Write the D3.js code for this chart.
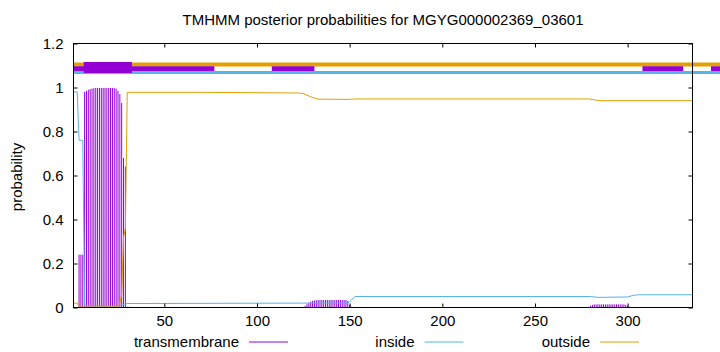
<!DOCTYPE html>
<html>
<head>
<meta charset="utf-8">
<script src="https://cdn.jsdelivr.net/npm/d3@7"></script>
<style>
  body { margin: 0; background: #fff; }
  text { font-family: "Liberation Sans", Arial, sans-serif; }
</style>
</head>
<body>
<div id="chart"></div>
<script>
// chart text
var title = "TMHMM posterior probabilities for MGYG000002369_03601";
var yLabel = "probability";
var seriesNames = ["transmembrane", "inside", "outside"];
var seriesColors = ["#9400d3", "#56b4e9", "#e69f00"];

// sequence length and ticks
var seqLength = 335;
var xTicks = [50, 100, 150, 200, 250, 300];
var yTicks = [0, 0.2, 0.4, 0.6, 0.8, 1, 1.2];

// transmembrane posterior, one value per residue (first residue given)
var tmStartA = 1;
var tmA = [0, 0, 0, 0.24, 0.24, 0.24, 0.98, 0.985, 0.99, 0.993, 0.995, 0.997, 0.998,
  0.998, 0.998, 0.998, 0.998, 0.998, 0.998, 0.998, 0.998, 0.998, 0.997, 0.995,
  0.985, 0.97, 0.93, 0.68, 0.64, 0.004, 0.003, 0.003];
var tmStartB = 124;
var tmB = [0.001, 0.003, 0.008, 0.015, 0.022, 0.027, 0.03, 0.032, 0.033, 0.034,
  0.034, 0.034, 0.034, 0.034, 0.034, 0.034, 0.034, 0.034, 0.034, 0.034, 0.034,
  0.034, 0.034, 0.034, 0.034, 0.03, 0.012, 0.003, 0.002];
var tmStartC = 279;
var tmC = [0.003, 0.008, 0.012, 0.014, 0.014, 0.014, 0.014, 0.014, 0.014, 0.014,
  0.014, 0.014, 0.014, 0.014, 0.014, 0.014, 0.014, 0.014, 0.014, 0.014, 0.012,
  0.008, 0.003];

// inside / outside posterior, [residue, probability] where the curve bends
var insidePts = [[1, 0.98], [3, 0.98], [4, 0.76], [6, 0.76], [7, 0.008], [24, 0.005],
  [27, 0.01], [29, 0.017], [30, 0.018], [125, 0.02], [149, 0.02], [151, 0.035],
  [153, 0.05], [280, 0.05], [284, 0.046], [300, 0.048], [303, 0.055], [306, 0.058],
  [335, 0.058]];
var outsidePts = [[1, 0.02], [3, 0.02], [4, 0.002], [25, 0.003], [26, 0.02], [27, 0.06],
  [28, 0.32], [29, 0.36], [30, 0.978], [70, 0.978], [123, 0.975], [125, 0.972],
  [127, 0.965], [129, 0.958], [131, 0.952], [133, 0.947], [149, 0.946], [153, 0.948],
  [279, 0.948], [282, 0.944], [285, 0.94], [335, 0.94]];

// predicted topology bands at the top [from, to]
var outsideBand = [[1, 352]];
var insideBand = [[1, 352]];
var tmThinBand = [[1, 77], [108, 131], [308, 330], [345, 352]];
var tmHelix = [[6.5, 32.5]];

var width = 720, height = 352;
var margin = {left: 73, right: 28, top: 43, bottom: 45};
var fontSize = 15;

var svg = d3.select("#chart").append("svg")
    .attr("width", width)
    .attr("height", height);

// scales
var xScale = d3.scaleLinear()
    .domain([1, seqLength])
    .range([margin.left + 0.5, width - margin.right + 0.5]);

var yScale = d3.scaleLinear()
    .domain([0, 1.2])
    .range([height - margin.bottom + 0.5, margin.top + 0.5]);

// bands (drawn first, not clipped)
function band(segs, yv, color, w) {
  svg.append("g").selectAll("line")
    .data(segs).enter().append("line")
      .attr("x1", function(d) { return xScale(d[0]); })
      .attr("x2", function(d) { return xScale(d[1]); })
      .attr("y1", yScale(yv))
      .attr("y2", yScale(yv))
      .attr("stroke", color)
      .attr("stroke-width", w);
}
band(outsideBand, 1.1045, seriesColors[2], 4);
band(tmThinBand, 1.085, seriesColors[0], 5);
band(insideBand, 1.068, seriesColors[1], 3);

svg.append("g").selectAll("rect")
  .data(tmHelix).enter().append("rect")
    .attr("x", function(d) { return xScale(d[0]); })
    .attr("width", function(d) { return xScale(d[1]) - xScale(d[0]); })
    .attr("y", 62)
    .attr("height", 11)
    .attr("fill", seriesColors[0]);

// impulses for the transmembrane posterior
var impulses = [];
[[tmStartA, tmA], [tmStartB, tmB], [tmStartC, tmC]].forEach(function(r) {
  r[1].forEach(function(v, i) {
    if (v > 0) impulses.push({pos: r[0] + i, val: v});
  });
});

svg.append("g").selectAll("line")
  .data(impulses).enter().append("line")
    .attr("x1", function(d) { return xScale(d.pos); })
    .attr("x2", function(d) { return xScale(d.pos); })
    .attr("y1", yScale(0))
    .attr("y2", function(d) { return yScale(d.val); })
    .attr("stroke", seriesColors[0])
    .attr("stroke-width", 1);

// inside / outside lines
var line = d3.line()
    .x(function(d) { return xScale(d[0]); })
    .y(function(d) { return yScale(d[1]); });

svg.append("path")
    .datum(insidePts)
    .attr("fill", "none")
    .attr("stroke", seriesColors[1])
    .attr("stroke-width", 1)
    .attr("d", line);

svg.append("path")
    .datum(outsidePts)
    .attr("fill", "none")
    .attr("stroke", seriesColors[2])
    .attr("stroke-width", 1)
    .attr("d", line);

// axes with inward ticks
var xAxis = d3.axisBottom(xScale).tickValues(xTicks).tickSizeInner(-4).tickSizeOuter(0).tickPadding(8);
var gx = svg.append("g")
    .attr("transform", "translate(0," + yScale(0) + ")")
    .call(xAxis);

var yAxis = d3.axisLeft(yScale).tickValues(yTicks).tickSizeInner(-4).tickSizeOuter(0).tickPadding(10)
    .tickFormat(function(d) { return String(d); });
var gy = svg.append("g")
    .attr("transform", "translate(" + xScale(1) + ",0)")
    .call(yAxis);

// mirrored ticks on top and right
var gxt = svg.append("g")
    .attr("transform", "translate(0," + yScale(1.2) + ")")
    .call(d3.axisTop(xScale).tickValues(xTicks).tickSizeInner(-4).tickSizeOuter(0).tickFormat(""));
var gyr = svg.append("g")
    .attr("transform", "translate(" + xScale(seqLength) + ",0)")
    .call(d3.axisRight(yScale).tickValues(yTicks).tickSizeInner(-4).tickSizeOuter(0).tickFormat(""));

[gx, gy, gxt, gyr].forEach(function(g) {
  g.select(".domain").remove();
  g.selectAll("line").attr("stroke", "#000");
  g.selectAll("text")
    .attr("font-family", "'Liberation Sans', Arial, sans-serif")
    .attr("font-size", fontSize)
    .attr("fill", "#000");
});

// frame
svg.append("rect")
    .attr("x", xScale(1))
    .attr("y", yScale(1.2))
    .attr("width", xScale(seqLength) - xScale(1))
    .attr("height", yScale(0) - yScale(1.2))
    .attr("fill", "none")
    .attr("stroke", "#000")
    .attr("stroke-width", 1);

// title
svg.append("text")
    .attr("x", (xScale(1) + xScale(seqLength)) / 2)
    .attr("y", 25)
    .attr("text-anchor", "middle")
    .attr("font-size", fontSize)
    .text(title);

// y label
svg.append("text")
    .attr("text-anchor", "middle")
    .attr("font-size", fontSize)
    .attr("transform", "translate(" + [22, 177] + ") rotate(-90)")
    .text(yLabel);

// legend
seriesNames.forEach(function(name, i) {
  var tx = 239 + i * 175.5;
  svg.append("text")
      .attr("x", tx)
      .attr("y", 347)
      .attr("text-anchor", "end")
      .attr("font-size", fontSize)
      .text(name);
  svg.append("line")
      .attr("x1", tx + 10)
      .attr("x2", tx + 49)
      .attr("y1", 342)
      .attr("y2", 342)
      .attr("stroke", seriesColors[i])
      .attr("stroke-width", 1);
});
</script>
</body>
</html>
